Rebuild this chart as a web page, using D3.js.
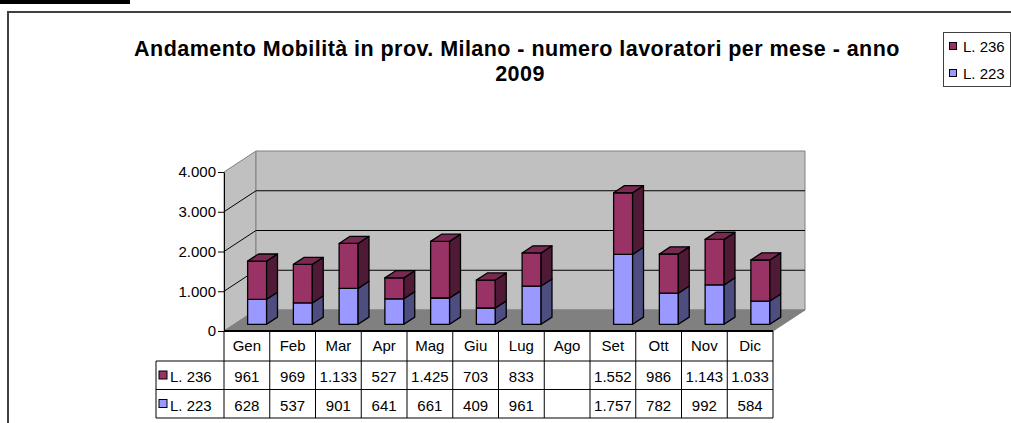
<!DOCTYPE html>
<html>
<head>
<meta charset="utf-8">
<script src="https://cdn.jsdelivr.net/npm/d3@7"></script>
<style>
body { margin:0; background:#fff; }
text { font-family: Arial, "Liberation Sans", sans-serif; }
</style>
</head>
<body>
<div id="chart"></div>
<script>
var months = ["Gen","Feb","Mar","Apr","Mag","Giu","Lug","Ago","Set","Ott","Nov","Dic"];
var l236 = [961,969,1133,527,1425,703,833,null,1552,986,1143,1033];
var l223 = [628,537,901,641,661,409,961,null,1757,782,992,584];
var yTicks = [0,1000,2000,3000,4000];
var seriesNames = ["L. 236","L. 223"];

var width = 1011, height = 423;
var depthX = 32, depthY = 21;
var barZ0 = 0.32, barZ1 = 0.66;

var colors = {
    l236: {front:"#993366", side:"#4f1a35", top:"#7a2952"},
    l223: {front:"#9999ff", side:"#4d4d80", top:"#7a7acc"}
};

var fmt = d3.formatLocale({decimal:",", thousands:".", grouping:[3], currency:["",""]}).format(",");

var svg = d3.select("#chart")
    .append("svg")
    .attr("width",width)
    .attr("height",height);

var x = d3.scaleBand()
    .domain(months)
    .range([224,773]);

var y = d3.scaleLinear()
    .domain([0,4000])
    .range([331,172]);

// project a point on the front plane back by depth z (0..1)
function proj(px,py,z){
    return [px + depthX*z, py - depthY*z];
}
function poly(pts){
    return "M" + pts.map(function(p){ return p[0]+","+p[1]; }).join("L") + "Z";
}

// frame
svg.append("rect").attr("x",0).attr("y",0).attr("width",130).attr("height",4).attr("fill","#000");
svg.append("path")
    .attr("d","M8," + height + "L8,12L" + width + ",12")
    .attr("fill","none")
    .attr("stroke","#404040")
    .attr("stroke-width",2);

// title
var title = svg.append("text")
    .attr("text-anchor","middle")
    .attr("font-size","21.5px")
    .attr("letter-spacing","0.45px")
    .attr("font-weight","bold");
title.append("tspan").attr("x",517).attr("y",56)
    .text("Andamento Mobilità in prov. Milano - numero lavoratori per mese - anno");
title.append("tspan").attr("x",520).attr("y",81).text("2009");

// walls and floor
var xl = x.range()[0], xr = x.range()[1];
var yb = y(0), yt = y(4000);
svg.append("path")
    .attr("d",poly([[xl,yb],[xl,yt],proj(xl,yt,1),proj(xl,yb,1)]))
    .attr("fill","#c0c0c0").attr("stroke","#808080");
svg.append("path")
    .attr("d",poly([proj(xl,yt,1),proj(xr,yt,1),proj(xr,yb,1),proj(xl,yb,1)]))
    .attr("fill","#c0c0c0").attr("stroke","#808080");
svg.append("path")
    .attr("d",poly([[xl,yb],[xr,yb],proj(xr,yb,1),proj(xl,yb,1)]))
    .attr("fill","#808080").attr("stroke","#808080");

// grid lines
var grid = svg.append("g").attr("class","grid");
yTicks.filter(function(v){ return v > 0 && v < 4000; }).forEach(function(v){
    var a = [xl,y(v)], b = proj(xl,y(v),1), c = proj(xr,y(v),1);
    grid.append("path")
        .attr("d","M"+a+"L"+b+"L"+c)
        .attr("fill","none")
        .attr("stroke","#000");
});

// value axis
var yAxis = svg.append("g")
    .attr("transform","translate(" + xl + ",0)")
    .call(d3.axisLeft(y).tickValues(yTicks).tickSize(6).tickSizeOuter(0).tickFormat(fmt));
yAxis.select(".domain").attr("stroke","#000");
yAxis.selectAll(".tick line").attr("stroke","#000");
yAxis.selectAll(".tick text")
    .attr("font-size","15px")
    .attr("font-family","Arial, 'Liberation Sans', sans-serif")
    .attr("fill","#000")
    .attr("x",-8);

// bars
var bw = x.bandwidth()*0.415;
var bars = svg.append("g");
months.forEach(function(m,i){
    if (l223[i] == null) return;
    var cx = x(m) + x.bandwidth()/2;
    var segs = [
        {v0:0, v1:l223[i], c:colors.l223},
        {v0:l223[i], v1:l223[i]+l236[i], c:colors.l236}
    ];
    segs.forEach(function(s,k){
        var fl = proj(cx-bw/2, y(s.v0), barZ0), fr = proj(cx+bw/2, y(s.v0), barZ0);
        var tl = proj(cx-bw/2, y(s.v1), barZ0), tr = proj(cx+bw/2, y(s.v1), barZ0);
        var br = proj(cx+bw/2, y(s.v0), barZ1), btr = proj(cx+bw/2, y(s.v1), barZ1);
        var btl = proj(cx-bw/2, y(s.v1), barZ1);
        bars.append("path").attr("d",poly([fl,fr,tr,tl]))
            .attr("fill",s.c.front).attr("stroke","#000").attr("stroke-width",1.3).attr("stroke-linejoin","round");
        bars.append("path").attr("d",poly([fr,br,btr,tr]))
            .attr("fill",s.c.side).attr("stroke","#000").attr("stroke-width",1.3).attr("stroke-linejoin","round");
        if (k == segs.length-1) {
            bars.append("path").attr("d",poly([tl,tr,btr,btl]))
                .attr("fill",s.c.top).attr("stroke","#000").attr("stroke-width",1.3).attr("stroke-linejoin","round");
        }
    });
});

// category axis line
svg.append("line")
    .attr("x1",xl).attr("x2",xr).attr("y1",yb).attr("y2",yb)
    .attr("stroke","#000").attr("stroke-width",2);

// data table
var rowTop = [yb, 361, 389.5, 418];
var labelLeft = 156;
var tbl = svg.append("g").attr("stroke","#000").attr("stroke-width",1);
months.forEach(function(m){
    tbl.append("line").attr("x1",x(m)).attr("x2",x(m)).attr("y1",rowTop[0]).attr("y2",rowTop[3]);
});
tbl.append("line").attr("x1",xr).attr("x2",xr).attr("y1",rowTop[0]).attr("y2",rowTop[3]);
tbl.append("line").attr("x1",labelLeft).attr("x2",labelLeft).attr("y1",rowTop[1]).attr("y2",rowTop[3]);
[1,2,3].forEach(function(r){
    tbl.append("line").attr("x1",labelLeft).attr("x2",xr).attr("y1",rowTop[r]).attr("y2",rowTop[r]);
});

var cells = svg.append("g").attr("font-size","15px").attr("text-anchor","middle").attr("fill","#000");
months.forEach(function(m,i){
    var cx = x(m) + x.bandwidth()/2;
    cells.append("text").attr("x",cx).attr("y",rowTop[0]+20).text(m);
    if (l236[i] != null) cells.append("text").attr("x",cx).attr("y",rowTop[1]+21).text(fmt(l236[i]));
    if (l223[i] != null) cells.append("text").attr("x",cx).attr("y",rowTop[2]+21).text(fmt(l223[i]));
});
[colors.l236, colors.l223].forEach(function(c,k){
    var ty = rowTop[k+1];
    svg.append("rect").attr("x",159).attr("y",ty+10).attr("width",8).attr("height",8)
        .attr("fill",c.front).attr("stroke","#000");
    svg.append("text").attr("x",170).attr("y",ty+21).attr("font-size","15px").text(seriesNames[k]);
});

// legend
var legend = svg.append("g");
legend.append("rect").attr("x",943.5).attr("y",32.5).attr("width",67).attr("height",54)
    .attr("fill","#fff").attr("stroke","#404040");
[colors.l236, colors.l223].forEach(function(c,k){
    var ly = 42 + k*27;
    legend.append("rect").attr("x",949.5).attr("y",ly+0.5).attr("width",7).attr("height",7)
        .attr("fill",c.front).attr("stroke","#000");
    legend.append("text").attr("x",963).attr("y",ly+10).attr("font-size","15px").text(seriesNames[k]);
});
</script>
</body>
</html>
